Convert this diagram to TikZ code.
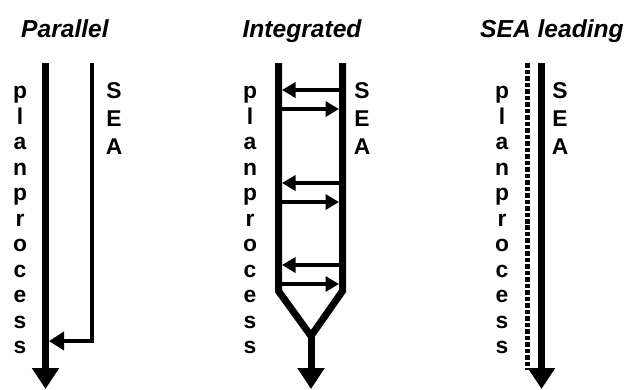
\documentclass[tikz,border=0pt]{standalone}
\usepackage{fontspec}
\setmainfont{Liberation Sans}
\usetikzlibrary{arrows.meta}

\begin{document}
\begin{tikzpicture}[title/.style={font=\fontsize{14}{16}\selectfont\bfseries\itshape, anchor=base},
  letters/.style={font=\fontsize{13}{14.5}\selectfont\bfseries, align=center, anchor=north, inner sep=0pt},
  sea/.style={font=\fontsize{13}{15.9}\selectfont\bfseries, align=center, anchor=north, inner sep=0pt},
  main line/.style={line width=0.14cm, -{Triangle[width=0.52cm,length=0.42cm]}},
  small arrow/.style={line width=0.066cm, shorten >=0.07cm, -{Triangle[width=0.3cm,length=0.27cm]}}]

\useasboundingbox (0,0) rectangle (12.48,-7.78);

% Parallel
\node[title] (t1) at (1.30,-0.74) {Parallel};
\coordinate (a1) at (0.91,-1.26);
\coordinate (b1) at (0.91,-7.78);
\coordinate (c1) at (1.84,-1.26);
\coordinate (d1) at (1.84,-6.82);
\coordinate (e1) at (0.98,-6.82);
\draw[main line] (a1) -- (b1);
\draw[line width=0.08cm, -{Triangle[width=0.36cm,length=0.3cm]}] (c1) -- (d1) -- (e1);
\node[letters] (p1) at (0.40,-1.72) {p\\l\\a\\n\\p\\r\\o\\c\\e\\s\\s};
\node[sea] (s1) at (2.28,-1.64) {S\\E\\A};

% Integrated
\node[title] (t2) at (6.04,-0.74) {Integrated};
\coordinate (a2) at (5.57,-1.26);
\coordinate (b2) at (5.57,-5.82);
\coordinate (m2) at (6.22,-6.72);
\coordinate (c2) at (6.85,-5.82);
\coordinate (d2) at (6.85,-1.26);
\coordinate (e2) at (6.22,-7.78);
\draw[line width=0.14cm] (a2) -- (b2) -- (m2) -- (c2) -- (d2);
\draw[main line] (m2) -- (e2);
\foreach \y in {-1.80,-3.66,-5.30}
  \draw[small arrow] (d2 |- 0,\y) -- (a2 |- 0,\y);
\foreach \y in {-2.18,-4.04,-5.68}
  \draw[small arrow] (a2 |- 0,\y) -- (d2 |- 0,\y);
\node[letters] (p2) at (5.00,-1.72) {p\\l\\a\\n\\p\\r\\o\\c\\e\\s\\s};
\node[sea] (s2) at (7.24,-1.64) {S\\E\\A};

% SEA leading
\node[title] (t3) at (11.04,-0.74) {SEA leading};
\coordinate (a3) at (10.55,-1.26);
\coordinate (b3) at (10.55,-7.40);
\coordinate (c3) at (10.83,-1.26);
\coordinate (d3) at (10.83,-7.78);
\draw[line width=0.1cm, dash pattern=on 0.09cm off 0.04cm] (a3) -- (b3);
\draw[main line] (c3) -- (d3);
\node[letters] (p3) at (10.04,-1.72) {p\\l\\a\\n\\p\\r\\o\\c\\e\\s\\s};
\node[sea] (s3) at (11.20,-1.64) {S\\E\\A};

\end{tikzpicture}
\end{document}
